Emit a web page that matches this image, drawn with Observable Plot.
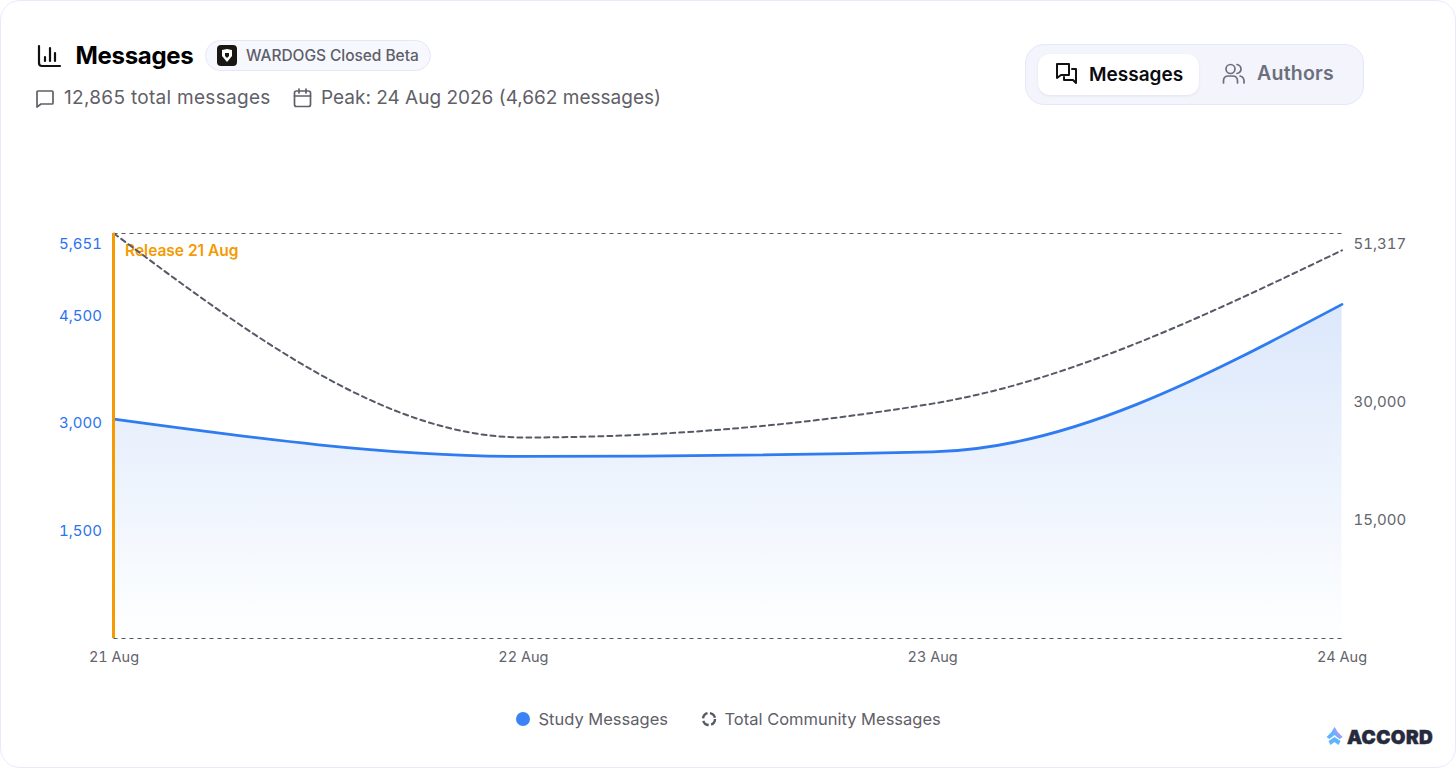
<!DOCTYPE html>
<html><head><meta charset="utf-8">
<script src="https://cdn.jsdelivr.net/npm/d3@7"></script>
<script src="https://cdn.jsdelivr.net/npm/@observablehq/plot@0.6"></script>
<style>
html,body{margin:0;padding:0;background:#fff;width:1456px;height:768px;overflow:hidden;font-family:Inter,sans-serif}
#card{position:absolute;left:0;top:0;width:1454px;height:766px;border:1px solid #e8eafa;border-radius:20px}
.t{position:absolute;white-space:nowrap;line-height:1;transform:translateY(-50%)}
.i{position:absolute;fill:none;stroke:currentColor;stroke-width:1.7;stroke-linecap:round;stroke-linejoin:round}
.box{position:absolute;box-sizing:border-box}
#chart{position:absolute;left:0;top:199.5px}
#chart svg{overflow:visible}
</style></head><body>
<div id="card"></div>

<svg class="i" style="left:37px;top:44px;color:#111;stroke-width:2.2" width="25" height="24" viewBox="0 0 25 24"><path d="M2 2v17q0 3 3 3h18M8 17v-4M13 17V4M18 17V9"/></svg>
<div class="t" style="left:75.5px;top:56px;font-size:24px;font-weight:700;color:#000;letter-spacing:-.3px">Messages</div>
<div class="box" style="left:205px;top:40px;width:226px;height:31px;background:#f7f8fe;border:1px solid #e4e7f8;border-radius:16px"></div>
<svg style="position:absolute;left:217px;top:45px" width="20" height="21" viewBox="0 0 20 21"><rect width="20" height="21" rx="4" fill="#1a1712"/><path d="M5 5l5-1 5 1v6l-5 6-5-6z" fill="#fff"/><path d="M8 8h4v3l-2 2-2-2z" fill="#1a1712"/></svg>
<div class="t" style="left:246px;top:56px;font-size:15.5px;font-weight:500;color:#5d5f69;letter-spacing:-.05px">WARDOGS Closed Beta</div>

<svg class="i" style="left:35px;top:89px;color:#5f6068" width="20" height="20" viewBox="0 0 20 20"><path d="M3 2h14q1 0 1 1v11q0 1-1 1H6l-4 3V3q0-1 1-1z"/></svg>
<div class="t" style="left:64px;top:97px;font-size:19px;color:#5f6068;letter-spacing:.3px">12,865 total messages</div>
<svg class="i" style="left:293px;top:88px;color:#5f6068" width="19" height="20" viewBox="0 0 19 20"><rect x="1.5" y="3" width="16" height="15.5" rx="2"/><path d="M1.5 8h16M6 1v4M13 1v4"/></svg>
<div class="t" style="left:321px;top:97px;font-size:19px;color:#5f6068">Peak: 24 Aug 2026 (4,662 messages)</div>

<div class="box" style="left:1025px;top:44px;width:339px;height:61px;background:#f3f4fc;border:1px solid #e5e8f8;border-radius:19px"></div>
<div class="box" style="left:1038px;top:54px;width:161px;height:41px;background:#fff;border-radius:12px;box-shadow:0 1px 3px rgba(30,40,90,.08)"></div>
<svg class="i" style="left:1055px;top:62px;color:#111;stroke-width:2" width="23" height="23" viewBox="0 0 23 23"><path d="M2 2h12v11H6l-4 3zM17 7h4v14l-3-3h-9v-3"/></svg>
<div class="t" style="left:1089px;top:74px;font-size:19px;font-weight:600;color:#0b0b0f">Messages</div>
<svg class="i" style="left:1222px;top:63px;color:#6b6f7c" width="23" height="21" viewBox="0 0 23 21"><circle cx="8.5" cy="6" r="4.5"/><path d="M1.5 20v-2q0-5 5-5h4q5 0 5 5v2M15 1.5q4 1 4 4.5t-4 4.5M18 13q4 1 4 5v2"/></svg>
<div class="t" style="left:1257px;top:74px;font-size:19.5px;font-weight:600;color:#6b6f7c;letter-spacing:.25px">Authors</div>

<div id="chart"></div>

<svg style="position:absolute;left:515px;top:711px" width="16" height="16"><circle cx="8" cy="8" r="7" fill="#3b82f6"/></svg>
<div class="t" style="left:538.5px;top:719px;font-size:16.5px;color:#5f6068">Study Messages</div>
<svg style="position:absolute;left:701px;top:711px" width="16" height="16"><circle cx="8" cy="8" r="6" fill="none" stroke="#555a66" stroke-width="2.4" stroke-dasharray="7 2.5"/></svg>
<div class="t" style="left:724.5px;top:719px;font-size:16.5px;color:#5f6068">Total Community Messages</div>

<svg style="position:absolute;left:1326px;top:727px" width="17" height="18" viewBox="0 0 17 18"><path d="M8.5 0l3 5 5 5-3 2-5-4-5 4-3-2 5-5z" fill="#5fb4fb"/><path d="M8.5 0l3 5 5 5-3 1-5-6z" fill="#a99af5"/><path d="M8.5 10l6 4-2 4-4-3-4 3-2-4z" fill="#5fb4fb"/></svg>
<div class="t" style="left:1347px;top:737px;font-size:19px;font-weight:900;color:#262a3d;letter-spacing:.4px;-webkit-text-stroke:.5px #262a3d">ACCORD</div>

<script>
const dates = ["2026-08-21","2026-08-22","2026-08-23","2026-08-24"].map(d => new Date(d));
const studyMessages = [3060, 2540, 2603, 4662];
const communityMessages = [51317, 25470, 29760, 49180];
const leftMax = 5651, rightMax = 51317;
const leftTicks = [1500, 3000, 4500];
const rightTicks = [15000, 30000];
const releaseLabel = "Release 21 Aug";

const blue = "#2f7bf0", labelBlue = "#2b73f0", orange = "#f59a00", grey = "#555a66", axisGrey = "#63646c";
const toLeft = v => v * leftMax / rightMax;
const toRight = v => v * rightMax / leftMax;
const fmt = d3.format(",");
const table = dates.map((date, i) => ({date, study: studyMessages[i], community: toLeft(communityMessages[i])}));

const gradient = () => {
  const g = document.createElementNS("http://www.w3.org/2000/svg", "g");
  g.innerHTML = `<defs><linearGradient id="studyFill" x1="0" y1="0" x2="0" y2="1">
    <stop offset="0" stop-color="#dbe7fb"/><stop offset="1" stop-color="#feffff"/></linearGradient></defs>`;
  return g;
};

const chart = Plot.plot({
  width: 1456, height: 480,
  marginLeft: 113.5, marginRight: 114.5, marginTop: 33, marginBottom: 42,
  style: {background: "transparent", fontFamily: "Inter, sans-serif"},
  x: {type: "utc", domain: [dates[0], dates[3]], label: null},
  y: {domain: [0, leftMax], label: null},
  marks: [
    gradient,
    Plot.areaY(table, {x: "date", y: "study", curve: "monotone-x", fill: "url(#studyFill)"}),
    Plot.ruleY([0, leftMax], {stroke: grey, strokeWidth: 1.2, strokeDasharray: "4,4"}),
    Plot.text([releaseLabel], {x: dates[0], y: leftMax, text: d => d, dx: 11, dy: 17.5, textAnchor: "start", fill: orange, fontSize: 15.5, fontWeight: 600}),
    Plot.line(table, {x: "date", y: "community", curve: "monotone-x", stroke: grey, strokeWidth: 2, strokeDasharray: "5,4"}),
    Plot.line(table, {x: "date", y: "study", curve: "monotone-x", stroke: blue, strokeWidth: 2.8}),
    Plot.ruleX([dates[0]], {stroke: orange, strokeWidth: 3, dx: -0.5}),
    Plot.axisX({ticks: dates, tickFormat: d3.utcFormat("%-d Aug"), tickSize: 0, tickPadding: 13, fontSize: 14.5, color: axisGrey, label: null}),
    Plot.axisY({ticks: leftTicks, tickFormat: fmt, tickSize: 0, tickPadding: 12, fontSize: 15, color: labelBlue, label: null}),
    Plot.axisY({ticks: [leftMax], tickFormat: fmt, tickSize: 0, tickPadding: 12, dy: 10.5, fontSize: 15, color: labelBlue, label: null}),
    Plot.axisY({anchor: "right", ticks: rightTicks.map(toLeft), tickFormat: v => fmt(Math.round(toRight(v))), tickSize: 0, tickPadding: 11.5, fontSize: 15, color: axisGrey, label: null}),
    Plot.axisY({anchor: "right", ticks: [leftMax], tickFormat: v => fmt(Math.round(toRight(v))), tickSize: 0, tickPadding: 11.5, dy: 10.5, fontSize: 15, color: axisGrey, label: null})
  ]
});
document.getElementById("chart").append(chart);
</script>
</body></html>
